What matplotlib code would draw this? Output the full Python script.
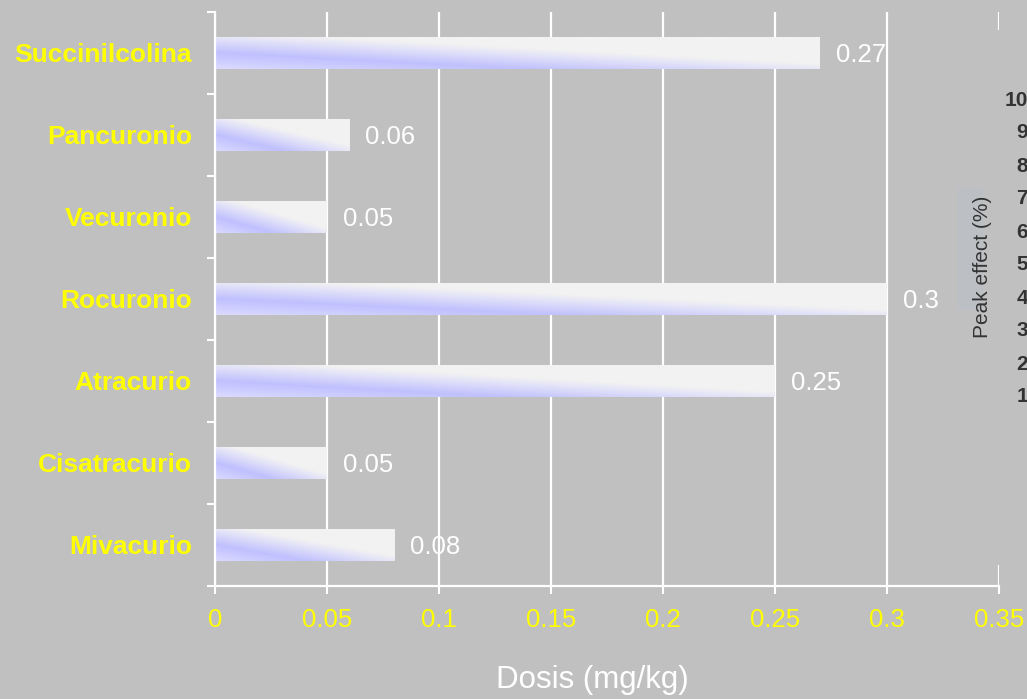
import numpy as np
import matplotlib
matplotlib.use("Agg")
import matplotlib.pyplot as plt
from matplotlib.patches import Rectangle
from matplotlib.colors import to_rgb

plt.rcParams['font.family'] = ['Liberation Sans', 'DejaVu Sans']

# Data
categories = ["Succinilcolina", "Pancuronio", "Vecuronio", "Rocuronio",
              "Atracurio", "Cisatracurio", "Mivacurio"]
doses = [0.27, 0.06, 0.05, 0.3, 0.25, 0.05, 0.08]
x_ticks = [0, 0.05, 0.1, 0.15, 0.2, 0.25, 0.3, 0.35]
x_label = "Dosis (mg/kg)"
inset_title = "Peak effect (%)"
inset_ticks = ["10", "9", "8", "7", "6", "5", "4", "3", "2", "1"]

BG = "#c0c0c0"
W, H = 1027, 699
fig = plt.figure(figsize=(W / 100, H / 100), dpi=100, facecolor=BG)
ax = fig.add_axes([215 / W, 1 - 586 / H, (999 - 215) / W, (586 - 12) / H])
ax.set_facecolor(BG)

# Diagonal gradient used to fill each bar
stops = [(-1.0, "#f2f2f2"), (-0.15, "#f2f2f2"), (0.05, "#e4e4f8"),
         (0.5, "#c0c0ff"), (1.0, "#dadaff")]
sx = np.array([s[0] for s in stops])
sc = np.array([to_rgb(s[1]) for s in stops])


def gradient(nx=240, ny=40):
    xf = np.linspace(0, 1, nx)[None, :]
    yf = np.linspace(0, 1, ny)[:, None]
    t = yf - xf
    img = np.zeros((ny, nx, 3))
    for c in range(3):
        img[..., c] = np.interp(t, sx, sc[:, c])
    return img


n = len(categories)
ypos = [n - 1 - i for i in range(n)]
bh = 0.4
grad = gradient()
for y, v in zip(ypos, doses):
    bar = ax.barh(y, v, height=bh, color="none", edgecolor="none", zorder=2)[0]
    im = ax.imshow(grad, extent=(0, v, y - bh / 2, y + bh / 2), origin="upper",
                   aspect="auto", interpolation="bilinear", zorder=2)
    im.set_clip_path(bar)
    ax.annotate(f"{v:g}", xy=(v, y), xytext=(11.5, -1.2), textcoords="offset points",
                ha="left", va="center", color="white", fontsize=18.5, zorder=4)

ax.set_xlim(0, 0.35)
ax.set_ylim(-0.5, n - 0.5)

ax.set_xticks(x_ticks)
ax.set_xticklabels([f"{t:g}" for t in x_ticks])
ax.set_yticks(ypos)
ax.set_yticklabels(categories)
ax.set_yticks(np.arange(-0.5, n, 1.0), minor=True)

ax.tick_params(axis="x", colors="white", labelcolor="yellow", labelsize=18.5,
               length=6, width=1.5, pad=9.5)
ax.tick_params(axis="y", which="major", length=0, pad=16.5, labelcolor="yellow",
               labelsize=19)
ax.tick_params(axis="y", which="minor", length=6, width=1.5, color="white")
for lbl in ax.get_yticklabels():
    lbl.set_fontweight("bold")

ax.grid(axis="x", color="white", linewidth=1.6)
ax.set_axisbelow(True)
for side in ("top", "right"):
    ax.spines[side].set_visible(False)
for side in ("left", "bottom"):
    ax.spines[side].set_color("white")
    ax.spines[side].set_linewidth(1.6)

fig.text(592 / W, 1 - 680 / H, x_label, ha="center", va="center",
         color="white", fontsize=22.5)

# Pasted chart fragment at the right edge
fig.add_artist(Rectangle((955 / W, 1 - 565 / H), (W - 955) / W, (565 - 30) / H,
                         transform=fig.transFigure, facecolor=BG,
                         edgecolor="none", zorder=5))
fig.add_artist(Rectangle((958 / W, 1 - 310 / H), 25 / W, (310 - 187) / H,
                         transform=fig.transFigure, facecolor="#b8c0ca",
                         edgecolor="none", alpha=0.45, zorder=6))
fig.text(983 / W, 1 - 267 / H, inset_title, rotation=90, ha="center",
         va="center", color="#333333", fontsize=15, zorder=7)
for k, lab in enumerate(inset_ticks):
    yy = 100 + k * 33
    fig.text(1028 / W, 1 - yy / H, lab, ha="right", va="center",
             color="#333333", fontsize=15, fontweight="bold", zorder=7)

fig.savefig("out.png", dpi=100, facecolor=BG)
